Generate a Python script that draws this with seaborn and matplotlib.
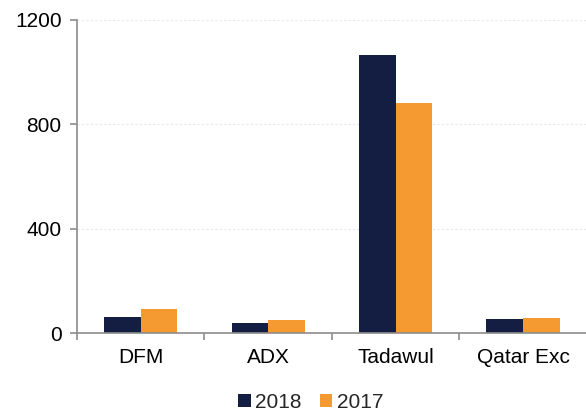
import pandas as pd
import matplotlib.pyplot as plt
import seaborn as sns

# ── Data ───────────────────────────────────────────────
exchanges = ['DFM', 'ADX', 'Tadawul', 'Qatar Exc']
years = ['2018', '2017']
vals_2018 = [62, 37, 1065, 55]
vals_2017 = [91, 50, 881, 56]
colors = ['#141E42', '#F59A31']

df = pd.DataFrame({
    'exchange': exchanges * 2,
    'year': [years[0]] * 4 + [years[1]] * 4,
    'value': vals_2018 + vals_2017,
})

sns.set_theme(style='white')
plt.rcParams['font.family'] = ['Liberation Sans', 'DejaVu Sans']

fig = plt.figure(figsize=(5.86, 4.13), dpi=100)
ax = fig.add_axes([0.1314, 0.1937, 0.87, 0.758])

sns.barplot(data=df, x='exchange', y='value', hue='year', order=exchanges,
            hue_order=years, palette=colors, width=0.575, gap=0,
            saturation=1, edgecolor='none', ax=ax)

ax.set_xlim(-0.5, 3.5)
ax.set_ylim(0, 1200)
ax.set_yticks([0, 400, 800, 1200])
ax.set_xlabel('')
ax.set_ylabel('')

# category separators as minor ticks
ax.set_xticks([-0.5, 0.5, 1.5, 2.5, 3.5], minor=True)
ax.tick_params(axis='x', which='major', length=0, pad=11, labelsize=15, colors='black')
ax.tick_params(axis='x', which='minor', bottom=True, length=5, width=1.2, color='#8c8c8c')
ax.tick_params(axis='y', left=True, length=5, width=1.2, color='#8c8c8c',
               labelsize=15, labelcolor='black', pad=6)

ax.yaxis.grid(True, color='#e8e8e8', linestyle=(0, (2, 2)), linewidth=0.8)
ax.set_axisbelow(True)

for s in ['top', 'right']:
    ax.spines[s].set_visible(False)
for s in ['left', 'bottom']:
    ax.spines[s].set_color('#8c8c8c')
    ax.spines[s].set_linewidth(1.2)

ax.legend(loc='lower center', bbox_to_anchor=(0.53, 0.003), bbox_transform=fig.transFigure,
          ncol=2, frameon=False, fontsize=15, handlelength=0.6, handleheight=0.6,
          handletextpad=0.2, columnspacing=0.9, borderaxespad=0, borderpad=0)

plt.savefig('out.png', dpi=100)
